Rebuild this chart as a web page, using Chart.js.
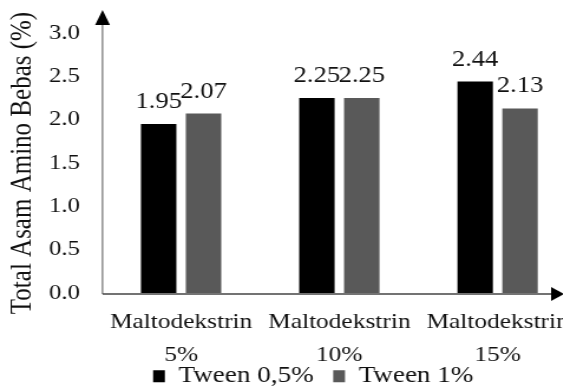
<!DOCTYPE html>
<html>
<head>
<meta charset="utf-8">
<script src="https://cdn.jsdelivr.net/npm/chart.js@4"></script>
<style>
  html, body { margin: 0; padding: 0; background: #fff; overflow: hidden; }
  /* the reference text is a bit wider than Times, so the whole chart is stretched sideways;
     the right end runs past the window and clips the last label like the reference does */
  #wrap { width: 495px; height: 390px; transform: scaleX(1.18); transform-origin: 0 0; }
</style>
</head>
<body>
<div id="wrap"><canvas id="asamAmino"></canvas></div>
<script>
// values
const categories = [['Maltodekstrin', '5%'], ['Maltodekstrin', '10%'], ['Maltodekstrin', '15%']];
const seriesNames = ['Tween 0,5%', 'Tween 1%'];
const tween05 = [1.95, 2.25, 2.44];
const tween1 = [2.07, 2.25, 2.13];
const yTicks = [0, 0.5, 1.0, 1.5, 2.0, 2.5, 3.0];
const yTitle = 'Total Asam Amino Bebas (%)';

const serif = '"Liberation Serif", "Times New Roman", serif';
const textColor = '#111';
const barColors = ['#000000', '#595959'];

// numbers above every bar
const valueLabels = {
    id: 'valueLabels',
    afterDatasetsDraw(chart) {
        const ctx = chart.ctx;
        ctx.save();
        ctx.font = '22.5px ' + serif;
        ctx.fillStyle = textColor;
        ctx.textAlign = 'center';
        ctx.textBaseline = 'alphabetic';
        chart.data.datasets.forEach((ds, i) => {
            chart.getDatasetMeta(i).data.forEach((bar, j) => {
                ctx.fillText(ds.data[j].toFixed(2), bar.x, bar.y - 16);
            });
        });
        ctx.restore();
    }
};

// axis lines with arrow heads
const axisArrows = {
    id: 'axisArrows',
    afterDatasetsDraw(chart) {
        const ctx = chart.ctx;
        const x0 = chart.chartArea.left + 0.5;
        const y0 = chart.scales.y.getPixelForValue(0) + 1;
        ctx.save();
        ctx.strokeStyle = '#555';
        ctx.fillStyle = '#000';
        ctx.lineWidth = 1;
        ctx.beginPath();
        ctx.moveTo(x0, y0);
        ctx.lineTo(x0, 22);
        ctx.stroke();
        ctx.beginPath();
        ctx.moveTo(x0, 10);
        ctx.lineTo(x0 - 6.3, 25);
        ctx.lineTo(x0 + 6.3, 25);
        ctx.closePath();
        ctx.fill();
        ctx.strokeStyle = '#444';
        ctx.lineWidth = 1.5;
        ctx.beginPath();
        ctx.moveTo(x0, y0);
        ctx.lineTo(470, y0);
        ctx.stroke();
        ctx.beginPath();
        ctx.moveTo(478, y0);
        ctx.lineTo(467, y0 - 7);
        ctx.lineTo(467, y0 + 7);
        ctx.closePath();
        ctx.fill();
        ctx.restore();
    }
};

// the legend hugs the x labels and sits right of centre in the reference
const legendShift = {
    id: 'legendShift',
    afterLayout(chart) {
        const lg = chart.legend;
        lg.left += 18;
        lg.right += 18;
        lg.top -= 23.8;
        lg.bottom -= 23.8;
    }
};

const chart = new Chart(document.getElementById('asamAmino'), {
    type: 'bar',
    data: {
        labels: categories,
        datasets: [
            { label: seriesNames[0], data: tween05, backgroundColor: barColors[0], borderWidth: 0 },
            { label: seriesNames[1], data: tween1, backgroundColor: barColors[1], borderWidth: 0 }
        ]
    },
    options: {
        responsive: true,
        maintainAspectRatio: false,
        animation: false,
        categoryPercentage: 0.567,
        barPercentage: 0.79,
        layout: { padding: { top: 33, bottom: -31.5, left: 0, right: 0 } },
        plugins: {
            legend: {
                position: 'bottom',
                labels: {
                    font: { family: serif, size: 23 },
                    color: textColor,
                    boxWidth: 10,
                    boxHeight: 12,
                    padding: 16.5
                }
            },
            tooltip: { enabled: false }
        },
        scales: {
            x: {
                grid: { display: false, drawTicks: false },
                border: { display: false },
                ticks: {
                    font: { family: serif, size: 21.5, lineHeight: 1.535 },
                    color: textColor,
                    padding: 13,
                    maxRotation: 0,
                    autoSkip: false
                },
                afterFit: s => { s.height = 79; }
            },
            y: {
                min: 0,
                max: 3,
                grid: { display: false, drawTicks: false },
                border: { display: false },
                afterBuildTicks: s => { s.ticks = yTicks.map(v => ({ value: v })); },
                ticks: {
                    font: { family: serif, size: 21 },
                    color: textColor,
                    padding: 18.6,
                    callback: v => v.toFixed(1)
                },
                title: {
                    display: true,
                    text: yTitle,
                    font: { family: serif, size: 25 },
                    color: textColor,
                    padding: { top: 4.9, bottom: 0 }
                },
                afterFit: s => { s.width = 86.4; }
            }
        }
    },
    plugins: [valueLabels, axisArrows, legendShift]
});
</script>
</body>
</html>
